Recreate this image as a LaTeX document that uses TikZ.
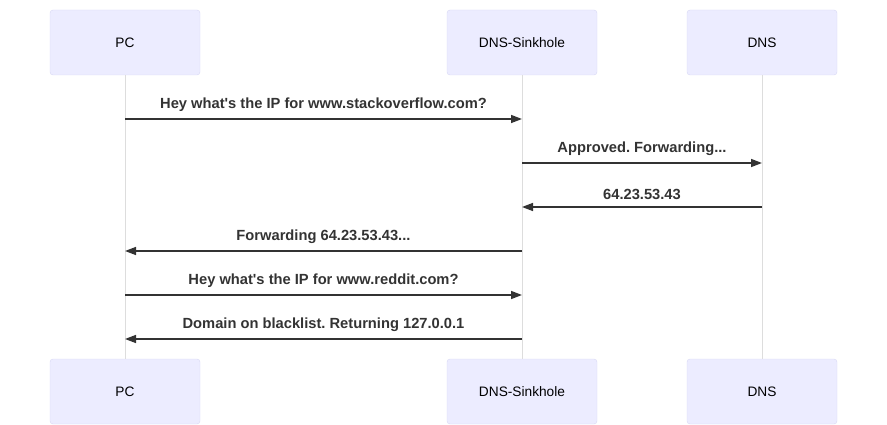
\documentclass[tikz,border=0pt]{standalone}
\usepackage{fontspec}
\setmainfont{Liberation Sans}
\usetikzlibrary{arrows.meta}
\definecolor{actorfill}{HTML}{ECECFF}
\definecolor{actorline}{HTML}{D8D8F4}
\definecolor{lifeline}{HTML}{DDDDDD}
\definecolor{msgline}{HTML}{333333}
\frenchspacing
\begin{document}
\begin{tikzpicture}[
    x=1pt, y=-1pt,
    actor/.style = {draw=actorline, fill=actorfill, rounded corners=3pt,
      minimum width=150pt, minimum height=65pt, inner sep=0pt,
      font=\fontsize{13.7}{15}\selectfont},
    life/.style = {draw=lifeline, line width=1pt},
    msg/.style = {draw=msgline, line width=1.5pt, -{Triangle[length=11pt,width=8pt]}},
    msgtext/.style = {font=\bfseries\fontsize{14.7}{16}\selectfont, text=msgline, above=3pt}
  ]
    \useasboundingbox (0,0) rectangle (887,425);
    % actors, top and bottom
    \node[actor] (pcTop) at (125,42.5) {PC};
    \node[actor] (skTop) at (522,42.5) {DNS-Sinkhole};
    \node[actor] (dnsTop) at (762,42.5) {DNS};
    \node[actor] (pcBot) at (125,391.5) {PC};
    \node[actor] (skBot) at (522,391.5) {DNS-Sinkhole};
    \node[actor] (dnsBot) at (762,391.5) {DNS};

    \draw[life] (pcTop) -- (pcBot);
    \draw[life] (skTop) -- (skBot);
    \draw[life] (dnsTop) -- (dnsBot);

    % points on the lifelines, one row per message
    \foreach \y [count=\i] in {119,163,207,251,295,339} {
      \coordinate (pc\i) at (125,\y);
      \coordinate (sk\i) at (522,\y);
      \coordinate (dns\i) at (762,\y);
    }

    \draw[msg] (pc1) -- node[msgtext] {Hey what\textquotesingle s the IP for www.stackoverflow.com?} (sk1);
    \draw[msg] (sk2) -- node[msgtext] {Approved. Forwarding...} (dns2);
    \draw[msg] (dns3) -- node[msgtext] {64.23.53.43} (sk3);
    \draw[msg] (sk4) -- node[msgtext] {Forwarding 64.23.53.43...} (pc4);
    \draw[msg] (pc5) -- node[msgtext] {Hey what\textquotesingle s the IP for www.reddit.com?} (sk5);
    \draw[msg] (sk6) -- node[msgtext] {Domain on blacklist. Returning 127.0.0.1} (pc6);
  \end{tikzpicture}
\end{document}
